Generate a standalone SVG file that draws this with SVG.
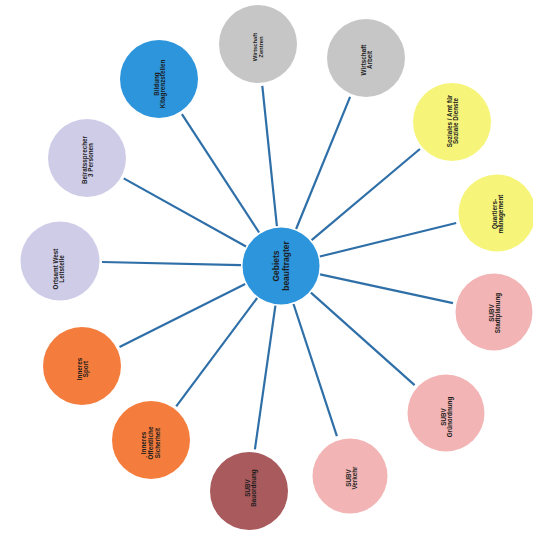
<svg xmlns="http://www.w3.org/2000/svg" width="533" height="534" viewBox="0 0 533 534">
<style>
.bg{fill:#ffffff}
.c{stroke:none}
.gray{fill:#c6c6c6}
.yel{fill:#f6f57a}
.pink{fill:#f2b4b4}
.dred{fill:#a85a5c}
.ora{fill:#f47d3e}
.lav{fill:#cfcce8}
.blue{fill:#2d95dc}
.t{font-family:"Liberation Sans",Arial,sans-serif;font-size:6.3px;font-weight:bold;fill:#1c1c1c;text-anchor:middle;dominant-baseline:central}
.tc{font-size:8.5px}
#connectors line{stroke:#2f6fa8;stroke-width:2.2;stroke-linecap:butt}
</style>
<rect class="bg" x="0" y="0" width="533" height="534"/>
<g id="connectors">
<line x1="276.9" y1="226.2" x2="262.3" y2="85.8"/>
<line x1="296.1" y1="229.0" x2="350.1" y2="96.9"/>
<line x1="311.6" y1="240.2" x2="419.9" y2="149.0"/>
<line x1="319.8" y1="256.5" x2="456.2" y2="223.0"/>
<line x1="320.1" y1="274.4" x2="453.0" y2="303.1"/>
<line x1="310.9" y1="292.6" x2="414.6" y2="385.1"/>
<line x1="293.5" y1="304.0" x2="336.9" y2="436.1"/>
<line x1="275.4" y1="305.6" x2="254.9" y2="449.4"/>
<line x1="257.1" y1="298.0" x2="176.2" y2="406.4"/>
<line x1="245.2" y1="284.0" x2="119.5" y2="347.1"/>
<line x1="241.0" y1="265.1" x2="102.0" y2="262.0"/>
<line x1="246.0" y1="246.5" x2="123.7" y2="178.4"/>
<line x1="259.1" y1="232.5" x2="181.9" y2="114.2"/>
</g>
<g id="n-center">
<circle class="c blue" cx="281" cy="266" r="38.5"/>
<text class="t tc" transform="rotate(-90 281 266)"><tspan x="281" y="261.2">Gebiets</tspan><tspan x="281" y="270.8">beauftragter</tspan></text>
</g>
<g id="n-wz">
<circle class="c gray" cx="258" cy="44" r="39"/>
<text class="t" style="font-size:5.8px" transform="rotate(-90 258 47)"><tspan x="258" y="43.8">Wirtschaft</tspan><tspan x="258" y="50.2">Zentren</tspan></text>
</g>
<g id="n-wa">
<circle class="c gray" cx="366" cy="58" r="39"/>
<text class="t" transform="rotate(-90 366 60)"><tspan x="366" y="56.6">Wirtschaft</tspan><tspan x="366" y="63.4">Arbeit</tspan></text>
</g>
<g id="n-soz">
<circle class="c yel" cx="452" cy="122" r="39"/>
<text class="t" transform="rotate(-90 452 121)"><tspan x="452" y="117.6">Soziales / Amt für</tspan><tspan x="452" y="124.4">Soziale Dienste</tspan></text>
</g>
<g id="n-qm">
<circle class="c yel" cx="497" cy="213" r="38.5"/>
<text class="t" transform="rotate(-90 497 214)"><tspan x="497" y="210.6">Quartiers-</tspan><tspan x="497" y="217.4">management</tspan></text>
</g>
<g id="n-sp">
<circle class="c pink" cx="494" cy="312" r="38.5"/>
<text class="t" transform="rotate(-90 494 313)"><tspan x="494" y="309.6">SUBV</tspan><tspan x="494" y="316.4">Stadtplanung</tspan></text>
</g>
<g id="n-go">
<circle class="c pink" cx="446" cy="413" r="38.5"/>
<text class="t" transform="rotate(-90 446 417)"><tspan x="446" y="413.6">SUBV</tspan><tspan x="446" y="420.4">Grünordnung</tspan></text>
</g>
<g id="n-vk">
<circle class="c pink" cx="350" cy="476" r="37.5"/>
<text class="t" transform="rotate(-90 351 478)"><tspan x="351" y="474.6">SUBV</tspan><tspan x="351" y="481.4">Verkehr</tspan></text>
</g>
<g id="n-bo">
<circle class="c dred" cx="249" cy="491" r="39"/>
<text class="t" transform="rotate(-90 250 488)"><tspan x="250" y="484.6">SUBV</tspan><tspan x="250" y="491.4">Bauordnung</tspan></text>
</g>
<g id="n-os">
<circle class="c ora" cx="151" cy="440" r="39"/>
<text class="t" transform="rotate(-90 150 443)"><tspan x="150" y="436.4">Inneres</tspan><tspan x="150" y="443">Öffentliche</tspan><tspan x="150" y="449.6">Sicherheit</tspan></text>
</g>
<g id="n-is">
<circle class="c ora" cx="82" cy="366" r="39"/>
<text class="t" transform="rotate(-90 82 369)"><tspan x="82" y="365.6">Inneres</tspan><tspan x="82" y="372.4">Sport</tspan></text>
</g>
<g id="n-ow">
<circle class="c lav" cx="60" cy="261" r="39.5"/>
<text class="t" transform="rotate(-90 58 269)"><tspan x="58" y="265.6">Ortsamt West</tspan><tspan x="58" y="272.4">Leitstelle</tspan></text>
</g>
<g id="n-br">
<circle class="c lav" cx="87" cy="158" r="39"/>
<text class="t" transform="rotate(-90 87 160)"><tspan x="87" y="156.6">Beiratssprecher</tspan><tspan x="87" y="163.4">3 Personen</tspan></text>
</g>
<g id="n-bi">
<circle class="c blue" cx="159" cy="79" r="39"/>
<text class="t" transform="rotate(-90 159 84)"><tspan x="159" y="80.6">Bildung</tspan><tspan x="159" y="87.4">Kitagrenzstellen</tspan></text>
</g>
</svg>
